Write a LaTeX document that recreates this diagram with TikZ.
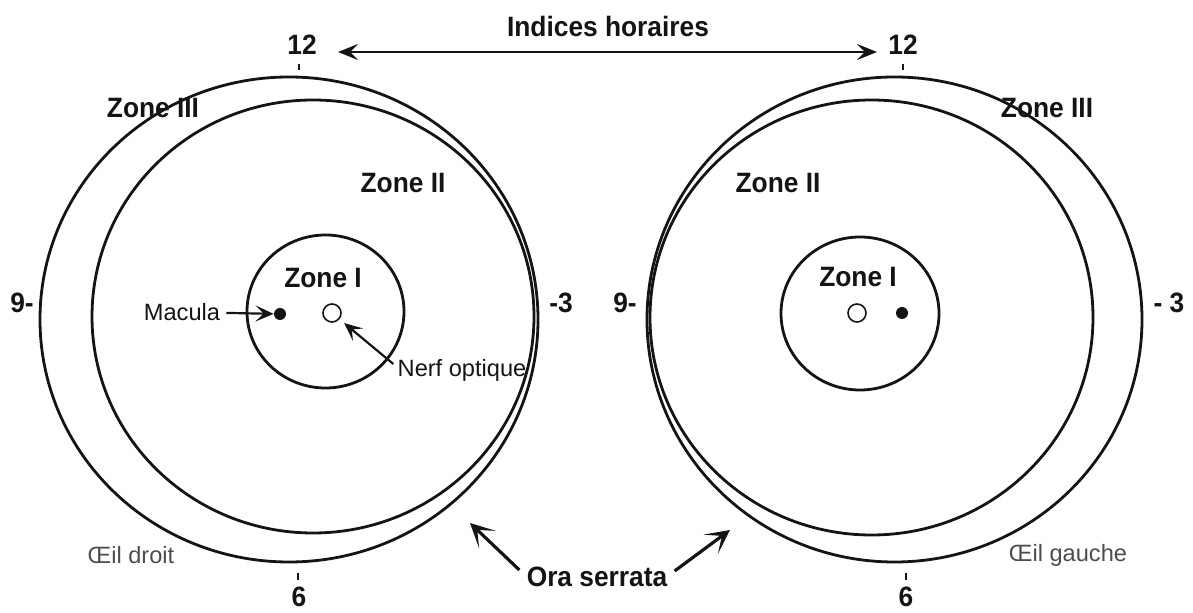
\documentclass[tikz,border=0pt]{standalone}
\usepackage{fontspec}
\setmainfont{Liberation Sans}
\newfontfamily\condfont[FakeStretch=0.94]{Liberation Sans}
\usepackage{xcolor}
\definecolor{cInk}{HTML}{141414}
\definecolor{cSoft}{HTML}{4D4D4D}
\usepackage{tikz}
\usetikzlibrary{positioning,arrows.meta,calc}
\tikzset{
  node-zone/.style={font=\condfont\bfseries\fontsize{14}{16}\selectfont,
    text=cInk,inner sep=1pt},
  node-clock/.style={node-zone},
  node-note/.style={font=\fontsize{11.8}{14}\selectfont,text=cInk,inner sep=1pt},
  node-eye/.style={node-note,text=cSoft},
  node-macula/.style={circle,fill=cInk,inner sep=0pt,minimum size=6pt},
  node-nerf/.style={circle,draw=cInk,line width=0.8pt,inner sep=0pt,
    minimum size=9pt},
  ring/.style={draw=cInk,line width=1.4pt},
  tick/.style={draw=cInk,line width=1.2pt},
  arrow/.style={-{Stealth[length=9pt,width=8pt,inset=4pt]},line width=1.1pt,
    draw=cInk},
  arrow-clock/.style={{Stealth[length=10pt,width=8pt,inset=4pt]}-%
    {Stealth[length=10pt,width=8pt,inset=4pt]},line width=1.2pt,draw=cInk},
  arrow-ora/.style={-{Stealth[length=12pt,width=12pt,inset=7pt]},
    line width=1.6pt,draw=cInk},
}

\begin{document}
\begin{tikzpicture}[x=0.5pt,y=-0.5pt]
  \useasboundingbox (0,0) rectangle (1193,613);
  % oeil droit
  \draw[ring] (289,319.5) ellipse (124.5pt and 121.25pt);
  \draw[ring] (313,316.5) ellipse (110.5pt and 108.25pt);
  \draw[ring] (325.5,311.5) ellipse (39.25pt and 38.25pt);
  \node[node-macula] (macL) at (280,314) {};
  \node[node-nerf] (nerfL) at (332,313) {};
  \node[node-zone] (z3L) at (153,108) {Zone III};
  \node[node-zone] (z2L) at (403,183) {Zone II};
  \node[node-zone] (z1L) at (323,278) {Zone I};
  \node[node-note] (lblMac) at (182,312) {Macula};
  \node[node-note] (lblNerf) at (462,370) {Nerf optique};
  \node[node-eye] (eyeL) at (131,555) {Œil droit};
  \node[node-clock] (h12L) at (302,45) {12};
  \node[node-clock] (h3L) at (561,303) {-3};
  \node[node-clock] (h6L) at (299,597) {6};
  \node[node-clock] (h9L) at (22,303) {9-};
  \draw[tick] (299,64) -- (299,70);
  \draw[tick] (298,573) -- (298,580);
  \draw[arrow,shorten <=2pt] (lblMac) -- (macL);
  \draw[arrow,shorten >=3pt] ($(lblNerf.west)+(-2,-6)$) -- (nerfL);

  % oeil gauche
  \draw[ring] (894.5,319.5) ellipse (123.75pt and 121.25pt);
  \draw[ring] (871.5,317.5) ellipse (110.75pt and 108.75pt);
  \draw[ring] (860,313.5) ellipse (39.5pt and 38.25pt);
  \node[node-nerf] (nerfR) at (857,313) {};
  \node[node-macula] (macR) at (902,313) {};
  \node[node-zone] (z3R) at (1047,108) {Zone III};
  \node[node-zone] (z2R) at (778,183) {Zone II};
  \node[node-zone] (z1R) at (858,277) {Zone I};
  \node[node-eye] (eyeR) at (1068,555) {Œil gauche};
  \node[node-clock] (h12R) at (903,45) {12};
  \node[node-clock] (h3R) at (1169,303) {- 3};
  \node[node-clock] (h6R) at (906,597) {6};
  \node[node-clock] (h9R) at (625,303) {9-};
  \draw[tick] (903,64) -- (903,70);
  \draw[tick] (906,573) -- (906,580);

  % legendes communes
  \node[node-zone] (idx) at (608,27) {Indices horaires};
  \coordinate (idxL) at (338,52);
  \coordinate (idxR) at (877,52);
  \draw[arrow-clock] (idxL) -- (idxR);
  \node[node-zone] (ora) at (597,577) {Ora serrata};
  \coordinate (oraTipL) at (470,523);
  \coordinate (oraTipR) at (730,530);
  \draw[arrow-ora] ($(ora.west)+(-5,-7)$) -- (oraTipL);
  \draw[arrow-ora] ($(ora.east)+(5,-6)$) -- (oraTipR);
\end{tikzpicture}
\end{document}
